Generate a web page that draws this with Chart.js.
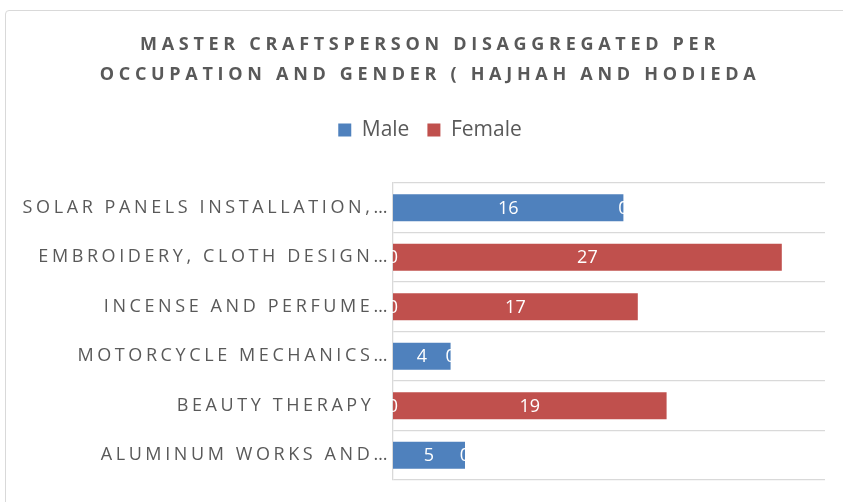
<!DOCTYPE html>
<html lang="en">
<head>
<meta charset="UTF-8">
<title>Master craftsperson by occupation and gender</title>
<script src="https://cdn.jsdelivr.net/npm/chart.js"></script>
<style>
  html, body { margin: 0; padding: 0; background: #fff; overflow: hidden; }
  .frame { position: absolute; left: 5px; top: 10px; width: 860px; height: 520px; border: 1px solid #d9d9d9; border-radius: 4px; }
  #chart { position: absolute; left: 0; top: 0; }
</style>
</head>
<body>
<div class="frame"></div>
<canvas id="chart" width="860" height="502"></canvas>
<script>
// values
const occupations = [
  'SOLAR PANELS INSTALLATION,…',
  'EMBROIDERY, CLOTH DESIGN…',
  'INCENSE AND PERFUME…',
  'MOTORCYCLE MECHANICS…',
  'BEAUTY THERAPY  ',
  'ALUMINUM WORKS AND…'
];
const maleCounts = [16, 0, 0, 4, 0, 5];
const femaleCounts = [0, 27, 17, 0, 19, 0];
const titleLines = [
  'MASTER CRAFTSPERSON DISAGGREGATED PER',
  'OCCUPATION AND GENDER ( HAJHAH AND HODIEDA'
];

const FONT = '"Open Sans", sans-serif';
const GREY = '#595959';

// white value labels in the middle of each bar + letter spacing for title / axis labels
const barLabels = {
  id: 'barLabels',
  afterInit(chart) {
    const title = chart.titleBlock;
    const drawTitle = title.draw.bind(title);
    title.draw = function () {
      chart.ctx.letterSpacing = '4.7px';
      drawTitle();
      chart.ctx.letterSpacing = '0px';
    };
  },
  afterDatasetsDraw(chart) {
    const ctx = chart.ctx;
    ctx.save();
    ctx.font = '18px ' + FONT;
    ctx.fillStyle = '#ffffff';
    ctx.textAlign = 'center';
    ctx.textBaseline = 'middle';
    chart.data.datasets.forEach((ds, i) => {
      chart.getDatasetMeta(i).data.forEach((bar, j) => {
        ctx.fillText(String(ds.data[j]), (bar.x + bar.base) / 2, bar.y + 1);
      });
    });
    ctx.restore();
    // y tick labels are drawn after this (ticks.z = 1)
    ctx.letterSpacing = '3.6px';
  },
  afterDraw(chart) {
    chart.ctx.letterSpacing = '0px';
  }
};

new Chart(document.getElementById('chart'), {
  type: 'bar',
  data: {
    labels: occupations,
    datasets: [{
      label: 'Male',
      data: maleCounts,
      backgroundColor: '#4f81bd',
      barPercentage: 0.55,
      categoryPercentage: 1.0
    }, {
      label: 'Female',
      data: femaleCounts,
      backgroundColor: '#c0504d',
      barPercentage: 0.55,
      categoryPercentage: 1.0
    }]
  },
  options: {
    indexAxis: 'y',
    responsive: false,
    animation: false,
    events: [],
    layout: { padding: { left: 0, right: 0, top: 0, bottom: 22 } },
    scales: {
      x: {
        stacked: true,
        min: 0,
        max: 30,
        position: 'top',
        ticks: { display: false },
        grid: { display: false },
        border: { display: false },
        afterFit(s) { s.height = 32.5; }
      },
      y: {
        stacked: true,
        grid: { color: '#d9d9d9', lineWidth: 1.3, drawTicks: false },
        border: { color: '#d9d9d9', width: 1.3 },
        ticks: { z: 1, color: GREY, padding: 2, font: { family: FONT, size: 18 } },
        afterFit(s) { s.width = 393; }
      },
      // empty spacer on the right so the plot ends at 825px while the title stays centred
      spacer: {
        type: 'category',
        axis: 'y',
        position: 'right',
        ticks: { display: false },
        grid: { display: false },
        border: { display: false },
        afterFit(s) { s.width = 35; }
      }
    },
    plugins: {
      title: {
        display: true,
        text: titleLines,
        color: GREY,
        font: { family: FONT, size: 18, weight: 'bold', lineHeight: 30 / 18 },
        padding: { top: 30, bottom: 11.5 }
      },
      legend: {
        labels: {
          boxWidth: 13,
          boxHeight: 13,
          padding: 18,
          color: GREY,
          font: { family: FONT, size: 21 }
        }
      },
      tooltip: { enabled: false }
    }
  },
  plugins: [barLabels]
});
</script>
</body>
</html>
